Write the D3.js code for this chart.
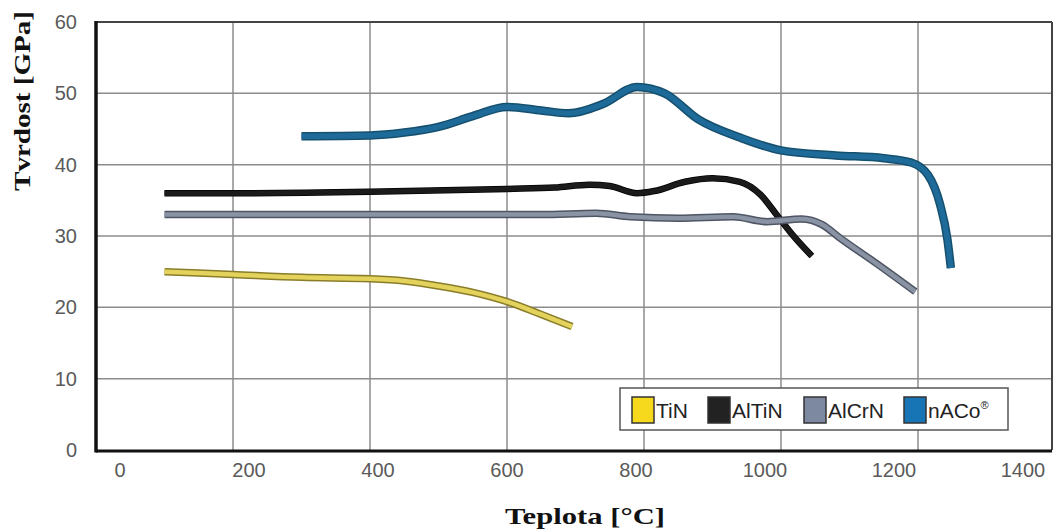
<!DOCTYPE html>
<html>
<head>
<meta charset="utf-8">
<script src="https://cdn.jsdelivr.net/npm/d3@7"></script>
<style>
  body { margin: 0; background: #fff; }
  svg { display: block; }
  .tick-label { font-family: "Liberation Sans Narrow", "Liberation Sans", Arial, sans-serif; fill: #5a5a5a; }
  .title { font-family: "Liberation Serif", "Times New Roman", serif; font-weight: bold; fill: #111; }
  .legend-text { font-family: "Liberation Sans Narrow", "Liberation Sans", Arial, sans-serif; fill: #222; }
</style>
</head>
<body>
<div id="chart"></div>
<script>
// hardness vs temperature
var xTicks = [0, 200, 400, 600, 800, 1000, 1200, 1400];
var yTicks = [0, 10, 20, 30, 40, 50, 60];

var tinData = [[100,25],[200,24.6],[300,24.2],[400,24.0],[450,23.7],[500,23.0],[550,22.1],[600,20.8],[650,19.0],[695,17.3]];
var altinData = [[100,36],[200,36],[400,36.2],[600,36.6],[670,36.8],[720,37.2],[750,37],[790,36],[815,36.3],[860,37.6],[900,38.1],[940,37.6],[970,35.8],[995,32.8],[1020,29.8],[1045,27.2]];
var alcrnData = [[100,33],[300,33],[500,33],[650,33],[730,33.2],[780,32.7],[850,32.5],[930,32.7],[980,32],[1030,32.4],[1060,31.6],[1085,29.8],[1140,26.1],[1196,22.2]];
var nacoData = [[300,44],[400,44.1],[450,44.5],[500,45.3],[550,46.8],[600,48.1],[650,47.6],[690,47.2],[740,48.5],[790,50.9],[830,50],[880,46.3],[940,43.8],[1000,42],[1080,41.3],[1150,40.9],[1190,40.3],[1215,38.5],[1232,34.5],[1243,29.5],[1248,25.5]];

var seriesNames = ["TiN", "AlTiN", "AlCrN", "nACo"];
var seriesData = [tinData, altinData, alcrnData, nacoData];
var lineColors = ["#e3d25c", "#1b1b1b", "#8a93a4", "#1e6b9a"];
var edgeColors = ["#8a7d2a", "#000", "#4e5564", "#16506f"];
var swatchColors = ["#f6d81c", "#222222", "#7d89a1", "#1875b5"];

(function drawChart(){
  var width = 1056, height = 530;
  var plotLeft = 96, plotRight = 1052, plotTop = 22, plotBottom = 450;

  var x = d3.scaleLinear().domain([0, 1400]).range([plotLeft, plotLeft + 7 * 137]);
  // the printed tick labels drift a little from the grid in the original
  var xLabel = d3.scaleLinear().domain([0, 1400]).range([120, 1023]);
  var y = d3.scaleLinear().domain([0, 60]).range([plotBottom, plotTop]);

  var svg = d3.select("#chart").append("svg")
    .attr("width", width)
    .attr("height", height);

  // grid
  svg.append("g").selectAll("line")
    .data(xTicks.filter(d => d > 0 && d < 1400))
    .enter().append("line")
    .attr("x1", d => x(d)).attr("x2", d => x(d))
    .attr("y1", plotTop).attr("y2", plotBottom)
    .attr("stroke", "#8c8c8c").attr("stroke-width", 1.5);

  svg.append("g").selectAll("line")
    .data(yTicks.filter(d => d > 0 && d < 60))
    .enter().append("line")
    .attr("x1", plotLeft).attr("x2", plotRight)
    .attr("y1", d => y(d)).attr("y2", d => y(d))
    .attr("stroke", "#8c8c8c").attr("stroke-width", 1.5);

  // frame
  svg.append("line").attr("x1", plotLeft).attr("x2", plotRight).attr("y1", plotTop).attr("y2", plotTop)
    .attr("stroke", "#444").attr("stroke-width", 2);
  svg.append("line").attr("x1", plotRight).attr("x2", plotRight).attr("y1", plotTop).attr("y2", plotBottom)
    .attr("stroke", "#444").attr("stroke-width", 2);
  svg.append("line").attr("x1", plotLeft).attr("x2", plotRight).attr("y1", plotBottom + 1).attr("y2", plotBottom + 1)
    .attr("stroke", "#111").attr("stroke-width", 3);
  svg.append("line").attr("x1", plotLeft).attr("x2", plotLeft).attr("y1", plotTop - 1).attr("y2", plotBottom + 2.5)
    .attr("stroke", "#111").attr("stroke-width", 3.5);

  // tick labels
  svg.append("g").selectAll("text")
    .data(yTicks).enter().append("text")
    .attr("class", "tick-label")
    .attr("x", 77).attr("y", d => y(d) + 7)
    .attr("text-anchor", "end")
    .attr("font-size", 20)
    .text(d => d);

  svg.append("g").selectAll("text")
    .data(xTicks).enter().append("text")
    .attr("class", "tick-label")
    .attr("x", d => xLabel(d)).attr("y", 477)
    .attr("text-anchor", "middle")
    .attr("font-size", 20)
    .text(d => d);

  // axis titles
  svg.append("text").attr("class", "title")
    .attr("x", 585).attr("y", 524)
    .attr("text-anchor", "middle")
    .attr("font-size", 24)
    .attr("textLength", 160).attr("lengthAdjust", "spacingAndGlyphs")
    .text("Teplota [°C]");

  svg.append("text").attr("class", "title")
    .attr("transform", "translate(30,101) rotate(-90)")
    .attr("text-anchor", "middle")
    .attr("font-size", 24)
    .attr("textLength", 180).attr("lengthAdjust", "spacingAndGlyphs")
    .text("Tvrdost [GPa]");

  // curves, each drawn as a dark edge with the colour on top
  var line = d3.line()
    .x(d => x(d[0]))
    .y(d => y(d[1]))
    .curve(d3.curveMonotoneX);

  var widths = [6, 5, 6, 7];
  seriesData.forEach(function(data, i){
    svg.append("path")
      .attr("d", line(data))
      .attr("fill", "none")
      .attr("stroke", edgeColors[i])
      .attr("stroke-width", widths[i] + 1.5)
      .attr("stroke-linejoin", "round");
    svg.append("path")
      .attr("d", line(data))
      .attr("fill", "none")
      .attr("stroke", lineColors[i])
      .attr("stroke-width", widths[i] - (i == 1 ? 0 : 1.5))
      .attr("stroke-linejoin", "round");
  });

  // legend
  var legend = svg.append("g");
  legend.append("rect")
    .attr("x", 620).attr("y", 388)
    .attr("width", 388).attr("height", 42)
    .attr("fill", "#fff")
    .attr("stroke", "#555").attr("stroke-width", 1.5);

  var legendX = [632, 708, 804, 904];
  seriesNames.forEach(function(name, i){
    legend.append("rect")
      .attr("x", legendX[i]).attr("y", 397)
      .attr("width", 22).attr("height", 26)
      .attr("fill", swatchColors[i])
      .attr("stroke", "#333").attr("stroke-width", 1.5);
    var t = legend.append("text")
      .attr("class", "legend-text")
      .attr("x", legendX[i] + 24).attr("y", 418)
      .attr("font-size", 21)
      .text(name);
    if(name == "nACo"){
      t.append("tspan").attr("font-size", 11).attr("dy", -9).text("®");
    }
  });
})();
</script>
</body>
</html>
